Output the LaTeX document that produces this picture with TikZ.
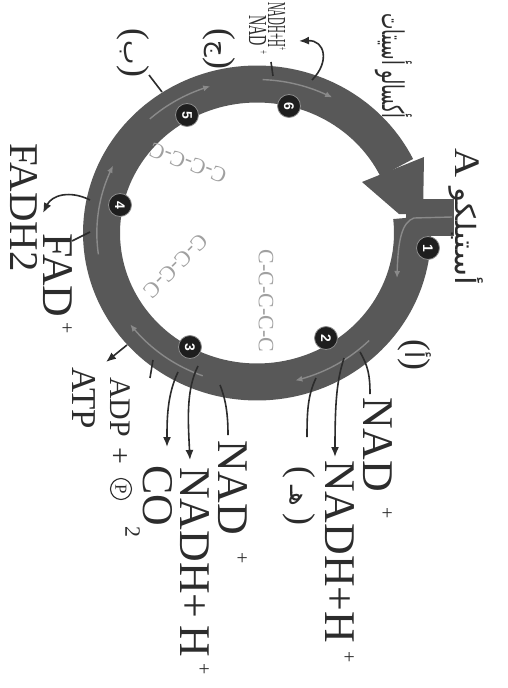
\documentclass[tikz,border=0pt]{standalone}
\usepackage{fontspec}
\setmainfont{Liberation Serif}
\newfontfamily\arabicfont[Script=Arabic]{DejaVu Sans}
\newfontfamily\numfont{Liberation Sans}
\TeXXeTstate=1
\usetikzlibrary{arrows.meta}
\definecolor{ringc}{HTML}{585858}
\definecolor{trackc}{HTML}{8A8A8A}
\definecolor{inkc}{HTML}{2C2C2C}
\definecolor{chainc}{HTML}{A0A0A0}
\definecolor{numfill}{HTML}{1E1E1E}
\newcommand\supplus[1]{\hspace{#1}\raisebox{0.4em}{\fontsize{20}{20}\selectfont +}}
\def\cx{257}\def\cy{233}\def\rx{155.5}\def\ry{149}
\begin{document}
\begin{tikzpicture}[x=1bp,y=-1bp,
  lbl/.style={inner sep=0pt, rotate=-90, anchor=base west, text=inkc, font=\fontsize{44}{48}\selectfont},
  parlbl/.style={inner sep=0pt, rotate=-90, text=inkc, font=\fontsize{36}{40}\selectfont},
  smalllbl/.style={inner sep=0pt, rotate=-90, text=inkc, font=\fontsize{26}{28}\selectfont},
  arlbl/.style={inner sep=0pt, rotate=-90, text=inkc, font=\arabicfont\fontsize{28}{30}\selectfont},
  numc/.style={circle, fill=numfill, draw=black!45, line width=0.8bp, minimum size=23bp, inner sep=0pt, text=white, font=\numfont\bfseries\fontsize{14}{14}\selectfont, rotate=-90},
  pcirc/.style={circle, draw=inkc, line width=1.1bp, minimum size=21bp, inner sep=0pt, text=inkc, font=\fontsize{17}{17}\selectfont, rotate=-90},
  conn/.style={draw=inkc, line width=1.6bp},
  arr/.style={conn, -{Latex[length=10bp,width=8bp]}},
  track/.style={draw=trackc, line width=1.4bp, -{Latex[length=7bp,width=6bp]}},
  chain/.style={inner sep=0pt, text=chainc, font=\fontsize{22}{22}\selectfont},
]
\useasboundingbox (0,0) rectangle (508,688);
\fill[white] (0,0) rectangle (508,688);

% ring
\draw[draw=ringc, line width=37bp, line join=round] plot[variable=\t, domain=-6:334, samples=150] ({\cx+\rx*cos(\t)},{\cy+\ry*sin(\t)});
\fill[ringc] (362,182) -- (424,157) -- (423,214) -- (399,214) -- cycle;
\fill[ringc] (406,199) rectangle (454,236);

% tracks inside the ring
\draw[track] (452,217) -- (414,218) .. controls (402,222) and (398,240) .. (397,278);
\draw[track] plot[variable=\t, domain=45:76, samples=30] ({\cx+1.02*\rx*cos(\t)},{\cy+1.02*\ry*sin(\t)});
\draw[track] plot[variable=\t, domain=110:143, samples=30] ({\cx+1.02*\rx*cos(\t)},{\cy+1.02*\ry*sin(\t)});
\draw[track] plot[variable=\t, domain=172:206, samples=30] ({\cx+1.03*\rx*cos(\t)},{\cy+1.03*\ry*sin(\t)});
\draw[track] plot[variable=\t, domain=228:253, samples=30] ({\cx+1.03*\rx*cos(\t)},{\cy+1.03*\ry*sin(\t)});
\draw[track] plot[variable=\t, domain=272:298, samples=30] ({\cx+1.03*\rx*cos(\t)},{\cy+1.03*\ry*sin(\t)});

% numbered steps
\node[numc] (n1) at (428,248) {1};
\node[numc] (n2) at (326,338) {2};
\node[numc] (n3) at (190,347) {3};
\node[numc] (n4) at (120,205) {4};
\node[numc] (n5) at (187,115) {5};
\node[numc] (n6) at (289,106) {6};

% carbon chains
\node[chain, rotate=-90] (ch5) at (266,301) {C-C-C-C-C};
\node[chain, rotate=-135] (ch4a) at (176,266) {C-C-C-C};
\node[chain, rotate=159] (ch4b) at (188,163) {C-C-C-C};

% labels
\node[lbl] (nad2) at (363,397) {NAD\supplus{0.36em}};
\node[lbl] (nadh2) at (325,460) {NADH+H\supplus{0.2em}};
\node[parlbl] (he) at (299,496) {(\hspace{0.2em}{\arabicfont\fontsize{26}{28}\selectfont هـ}\hspace{0.2em})};
\node[parlbl] (alef) at (415,355) {({\arabicfont\fontsize{26}{28}\selectfont أ})};
\node[lbl] (nad3) at (218,440) {NAD\supplus{0.4em}};
\node[lbl] (nadh3) at (180,467) {NADH+\hspace{0.15em}H\supplus{0.15em}};
\node[lbl] (co2) at (143,465) {CO\raisebox{-0.4em}{\fontsize{22}{22}\selectfont 2}};
\node[lbl, font=\fontsize{30}{32}\selectfont] (adp) at (110,377) {ADP\hspace{0.35em}+};
\node[pcirc] (pi) at (121,489) {P};
\node[lbl, font=\fontsize{35}{38}\selectfont] (atp) at (72,367) {ATP};
\node[lbl] (fad) at (43,233) {FAD\supplus{0.1em}};
\node[lbl, font=\fontsize{41}{44}\selectfont] (fadh) at (10,143) {FADH2};
\node[parlbl] (baa) at (133,53) {({\arabicfont\fontsize{26}{28}\selectfont ب})};
\node[parlbl] (jim) at (219,49) {({\arabicfont\fontsize{26}{28}\selectfont ج})};
\node[smalllbl, xscale=0.42, anchor=base west] (nadh6) at (268,2) {NADH+H\raisebox{0.4em}{\fontsize{13}{13}\selectfont +}};
\node[smalllbl, xscale=0.55, anchor=base west] (nad6) at (249,15) {NAD\hspace{0.3em}\raisebox{0.4em}{\fontsize{13}{13}\selectfont +}};
\node[arlbl, xscale=1.12] (acetyl) at (466,217) {\beginR أستيلكو {\rmfamily\fontsize{36}{36}\selectfont A}\endR};
\node[arlbl, xscale=0.58, font=\arabicfont\fontsize{30}{32}\selectfont] (oxalo) at (394,66) {\beginR أكسالو أسيتات\endR};

% connectors, step 2
\coordinate (s2a) at (360,352); \coordinate (s2ae) at (370,394);
\draw[conn] (s2a) .. controls (368,366) and (370,375) .. (s2ae);
\coordinate (s2b) at (344,358); \coordinate (s2be) at (335,457);
\draw[arr] (s2b) .. controls (337,380) and (335,400) .. (s2be);
\coordinate (s2c) at (316,378); \coordinate (s2ce) at (307,437);
\draw[conn] (s2c) .. controls (308,395) and (307,410) .. (s2ce);
% step 3
\coordinate (s3a) at (220,385); \coordinate (s3ae) at (228,435);
\draw[conn] (s3a) .. controls (226,400) and (228,415) .. (s3ae);
\coordinate (s3b) at (198,366); \coordinate (s3be) at (190,460);
\draw[arr] (s3b) .. controls (186,390) and (188,420) .. (s3be);
\coordinate (s3c) at (178,372); \coordinate (s3ce) at (167,447);
\draw[arr] (s3c) .. controls (167,395) and (167,420) .. (s3ce);
\coordinate (s3d) at (127,345); \coordinate (s3de) at (106,362);
\draw[arr] (s3d) -- (s3de);
\coordinate (s3e) at (153,360); \coordinate (s3ee) at (150,378);
\draw[conn] (s3e) -- (s3ee);
% step 4
\coordinate (s4a) at (90,232); \coordinate (s4ae) at (72,241);
\draw[conn] (s4a) -- (s4ae);
\coordinate (s4b) at (90,200); \coordinate (s4be) at (43,213);
\draw[arr] (s4b) .. controls (70,190) and (52,195) .. (s4be);
% step 5
\coordinate (s5a) at (162,92); \coordinate (s5ae) at (149,75);
\draw[conn] (s5a) -- (s5ae);
% step 6
\coordinate (s6a) at (273,76); \coordinate (s6ae) at (271,62);
\draw[conn] (s6a) -- (s6ae);
\coordinate (s6b) at (312,80); \coordinate (s6be) at (299,41);
\draw[arr] (s6b) .. controls (330,62) and (325,40) .. (s6be);
\end{tikzpicture}
\end{document}
